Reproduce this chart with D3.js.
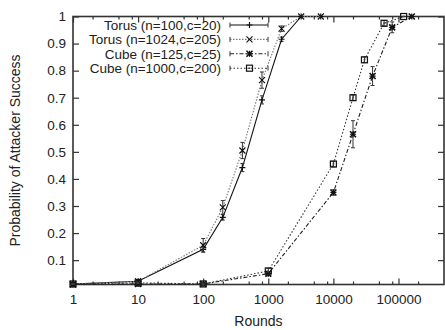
<!DOCTYPE html>
<html>
<head>
<meta charset="utf-8">
<script src="https://cdn.jsdelivr.net/npm/d3@7"></script>
<style>
  body { margin: 0; background: #fff; }
  text { font-family: "Liberation Sans", Arial, sans-serif; fill: #222; }
</style>
</head>
<body>
<svg></svg>
<script>
var width = 445,
    height = 330;

// data
var seriesNames = ["Torus (n=100,c=20)", "Torus (n=1024,c=205)", "Cube (n=125,c=25)", "Cube (n=1000,c=200)"];

var torus100X = [1, 10, 100, 200, 400, 800, 1600, 3200, 6400];
var torus100Y = [0.012, 0.022, 0.14, 0.258, 0.442, 0.692, 0.916, 1.0, 1.0];
var torus100E = [0.002, 0.004, 0.01, 0.01, 0.015, 0.015, 0.008, 0, 0];

var torus1024X = [1, 10, 100, 200, 400, 800, 1600, 3200, 6400];
var torus1024Y = [0.012, 0.022, 0.155, 0.295, 0.505, 0.765, 0.955, 1.0, 1.0];
var torus1024E = [0.002, 0.004, 0.025, 0.025, 0.03, 0.03, 0.01, 0, 0];

var cube125X = [1, 10, 100, 1000, 10000, 20000, 40000, 80000, 160000];
var cube125Y = [0.01, 0.012, 0.012, 0.05, 0.35, 0.565, 0.78, 0.96, 1.0];
var cube125E = [0, 0.002, 0.003, 0.008, 0.01, 0.05, 0.035, 0.02, 0];

var cube1000X = [1, 10, 100, 1000, 10000, 20000, 30000, 60000, 120000];
var cube1000Y = [0.012, 0.016, 0.012, 0.06, 0.455, 0.70, 0.84, 0.975, 1.0];
var cube1000E = [0.002, 0.003, 0.003, 0.01, 0.01, 0.01, 0.01, 0.01, 0];

var xTicks = [1, 10, 100, 1000, 10000, 100000];
var yTicks = [0.1, 0.2, 0.3, 0.4, 0.5, 0.6, 0.7, 0.8, 0.9, 1];

var margin = {left: 73, right: 1, top: 16.5, bottom: 45.5};

var svg = d3.select("svg")
    .attr("width", width)
    .attr("height", height);

var x = d3.scaleLog()
    .domain([1, 500000])
    .range([margin.left, width - margin.right]);

var y = d3.scaleLinear()
    .domain([0.01, 1])
    .range([height - margin.bottom, margin.top]);

// minor ticks (the ones visible in the picture)
var minorTicks = [];
xTicks.forEach(function (t) {
    [2, 5, 8].forEach(function (m) {
        if (t * m < 500000) minorTicks.push(t * m);
    });
});

function styleAxis(g) {
    g.select(".domain").remove();
    g.selectAll("line").attr("stroke", "#333").attr("stroke-width", 1.2);
    g.selectAll("text").attr("font-size", 13.5).attr("fill", "#222")
        .style("font-family", "Liberation Sans, Arial, sans-serif");
}

svg.append("g")
    .attr("transform", "translate(0," + y.range()[0] + ")")
    .call(d3.axisBottom(x).tickValues(xTicks).tickFormat(d3.format("d"))
        .tickSizeInner(-6).tickSizeOuter(0).tickPadding(10))
    .call(styleAxis);

svg.append("g")
    .attr("transform", "translate(0," + y.range()[0] + ")")
    .call(d3.axisBottom(x).tickValues(minorTicks).tickFormat("")
        .tickSizeInner(-3).tickSizeOuter(0))
    .call(styleAxis);

svg.append("g")
    .attr("transform", "translate(0," + y.range()[1] + ")")
    .call(d3.axisTop(x).tickValues(xTicks).tickFormat("")
        .tickSizeInner(-6).tickSizeOuter(0))
    .call(styleAxis);

svg.append("g")
    .attr("transform", "translate(0," + y.range()[1] + ")")
    .call(d3.axisTop(x).tickValues(minorTicks).tickFormat("")
        .tickSizeInner(-3).tickSizeOuter(0))
    .call(styleAxis);

svg.append("g")
    .attr("transform", "translate(" + x.range()[0] + ",0)")
    .call(d3.axisLeft(y).tickValues(yTicks).tickFormat(d3.format("~g"))
        .tickSizeInner(-6).tickSizeOuter(0).tickPadding(7))
    .call(styleAxis);

svg.append("g")
    .attr("transform", "translate(" + x.range()[1] + ",0)")
    .call(d3.axisRight(y).tickValues(yTicks).tickFormat("")
        .tickSizeInner(-6).tickSizeOuter(0))
    .call(styleAxis);

// frame
svg.append("rect")
    .attr("x", x.range()[0])
    .attr("y", y.range()[1])
    .attr("width", x.range()[1] - x.range()[0])
    .attr("height", y.range()[0] - y.range()[1])
    .attr("fill", "none")
    .attr("stroke", "#333")
    .attr("stroke-width", 1.6);

// axis titles
svg.append("text")
    .attr("x", (x.range()[0] + x.range()[1]) / 2)
    .attr("y", 326)
    .attr("text-anchor", "middle")
    .attr("font-size", 14)
    .text("Rounds");

svg.append("text")
    .attr("transform", "translate(20," + (y.range()[0] + y.range()[1]) / 2 + ") rotate(-90)")
    .attr("text-anchor", "middle")
    .attr("font-size", 14)
    .text("Probability of Attacker Success");

// markers
function drawMarker(g, kind, cx, cy) {
    var s = 3;
    if (kind == "plus" || kind == "star") {
        g.append("path").attr("d", "M" + (cx - s) + "," + cy + "H" + (cx + s) + "M" + cx + "," + (cy - s) + "V" + (cy + s))
            .attr("stroke", "#111").attr("stroke-width", 1.2);
    }
    if (kind == "cross" || kind == "star") {
        g.append("path").attr("d", "M" + (cx - s) + "," + (cy - s) + "L" + (cx + s) + "," + (cy + s) +
                "M" + (cx - s) + "," + (cy + s) + "L" + (cx + s) + "," + (cy - s))
            .attr("stroke", "#111").attr("stroke-width", kind == "star" ? 1.6 : 1.1);
    }
    if (kind == "square") {
        g.append("rect").attr("x", cx - 3).attr("y", cy - 3).attr("width", 6).attr("height", 6)
            .attr("fill", "none").attr("stroke", "#111").attr("stroke-width", 1.2);
        g.append("rect").attr("x", cx - 0.8).attr("y", cy - 0.8).attr("width", 1.6).attr("height", 1.6)
            .attr("fill", "#444");
    }
}

var series = [
    {name: seriesNames[0], xs: torus100X, ys: torus100Y, es: torus100E, dash: null, color: "#111", width: 1.1, marker: "plus"},
    {name: seriesNames[1], xs: torus1024X, ys: torus1024Y, es: torus1024E, dash: "1.5,1.5", color: "#777", width: 1.1, marker: "cross"},
    {name: seriesNames[2], xs: cube125X, ys: cube125Y, es: cube125E, dash: "4,2,1.5,2", color: "#222", width: 1.1, marker: "star"},
    {name: seriesNames[3], xs: cube1000X, ys: cube1000Y, es: cube1000E, dash: "1.5,2", color: "#333", width: 1.1, marker: "square"}
];

var line = d3.line()
    .x(function (d) { return x(d[0]); })
    .y(function (d) { return y(d[1]); });

var plot = svg.append("g");

series.forEach(function (s) {
    var pts = s.xs.map(function (v, i) { return [v, s.ys[i], s.es[i]]; });
    var g = plot.append("g");

    g.append("path")
        .datum(pts)
        .attr("d", line)
        .attr("fill", "none")
        .attr("stroke", s.color)
        .attr("stroke-width", s.width)
        .attr("stroke-dasharray", s.dash);

    // error bars
    pts.forEach(function (p) {
        if (!p[2]) return;
        var cx = x(p[0]),
            y1 = y(Math.min(1, p[1] + p[2])),
            y2 = y(Math.max(0.01, p[1] - p[2]));
        g.append("path")
            .attr("d", "M" + cx + "," + y1 + "V" + y2 +
                "M" + (cx - 2) + "," + y1 + "H" + (cx + 2) +
                "M" + (cx - 2) + "," + y2 + "H" + (cx + 2))
            .attr("fill", "none")
            .attr("stroke", "#333")
            .attr("stroke-width", 1);
    });

    pts.forEach(function (p) {
        drawMarker(g, s.marker, x(p[0]), y(p[1]));
    });
});

// legend
var legend = svg.append("g");
var legendY = [25, 39.4, 53.8, 68.2];

series.forEach(function (s, i) {
    var ly = legendY[i];
    legend.append("text")
        .attr("x", 221)
        .attr("y", ly)
        .attr("dy", "0.35em")
        .attr("text-anchor", "end")
        .attr("font-size", 13.5)
        .text(s.name);

    legend.append("path")
        .attr("d", "M230," + ly + "H268")
        .attr("stroke", s.color)
        .attr("stroke-width", s.width)
        .attr("stroke-dasharray", s.dash);

    legend.append("path")
        .attr("d", "M230," + (ly - 2.5) + "V" + (ly + 2.5) + "M268," + (ly - 2.5) + "V" + (ly + 2.5))
        .attr("stroke", "#333")
        .attr("stroke-width", 1);

    drawMarker(legend, s.marker, 249.5, ly);
});
</script>
</body>
</html>
